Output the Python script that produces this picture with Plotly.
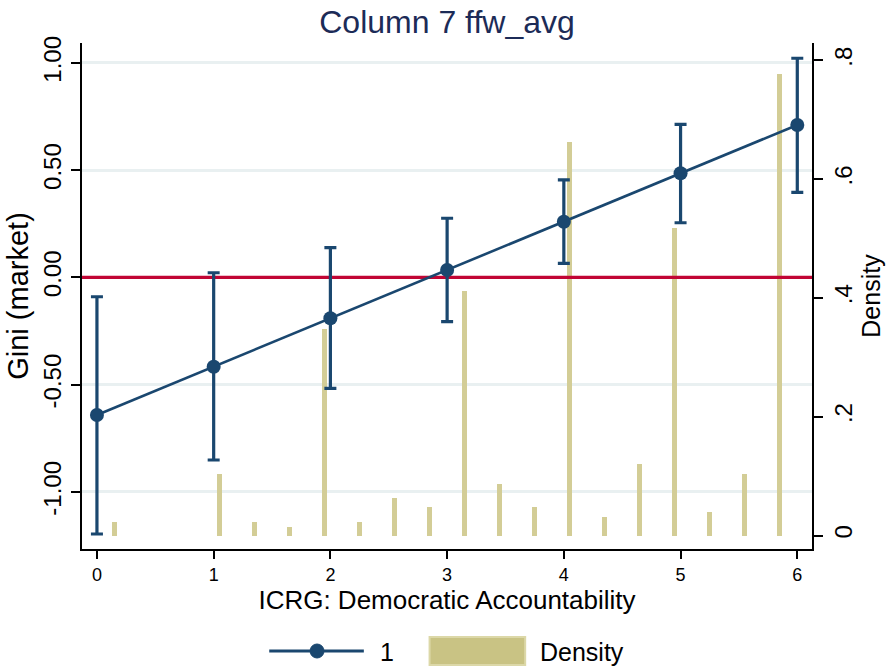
import plotly.graph_objects as go

# Marginal effect of ICRG democratic accountability on market Gini
icrg_levels = [0, 1, 2, 3, 4, 5, 6]
coef = [-0.641, -0.416, -0.190, 0.035, 0.260, 0.486, 0.711]
ci_upper = [-0.090, 0.022, 0.139, 0.276, 0.455, 0.714, 1.022]
ci_lower = [-1.196, -0.851, -0.517, -0.206, 0.066, 0.255, 0.397]

# Histogram of the moderator (bin width 0.3, density scale)
bin_centers = [0.15, 0.45, 0.75, 1.05, 1.35, 1.65, 1.95, 2.25, 2.55, 2.85,
               3.15, 3.45, 3.75, 4.05, 4.35, 4.65, 4.95, 5.25, 5.55, 5.85]
density = [0.022, 0.0, 0.0, 0.104, 0.022, 0.014, 0.348, 0.022, 0.063, 0.048,
           0.412, 0.087, 0.048, 0.663, 0.031, 0.120, 0.517, 0.039, 0.104, 0.777]

gini_ticks = [-1.0, -0.5, 0.0, 0.5, 1.0]
gini_ticktext = ["-1.00", "-0.50", "0.00", "0.50", "1.00"]
density_ticks = [0.0, 0.2, 0.4, 0.6, 0.8]
density_ticktext = ["0", ".2", ".4", ".6", ".8"]

X_RANGE = [-0.128, 6.126]
GINI_RANGE = [-1.266, 1.093]
DENSITY_RANGE = [-0.0227, 0.829]

NAVY = "#1A476F"
CRANBERRY = "#C10534"
KHAKI = "#D3CD96"
GRID = "#E9F0F1"
FONT = "Liberation Sans, Arial, sans-serif"

W, H = 888, 671
ML, MR, MT, MB = 82, 73, 43, 122
PW, PH = W - ML - MR, H - MT - MB


def px(x):
    return (x - ML) / PW


def py(y):
    return (H - MB - y) / PH


err_plus = [u - c for u, c in zip(ci_upper, coef)]
err_minus = [c - l for c, l in zip(coef, ci_lower)]
# empty bins are left out so no zero-height sliver is drawn
bar_heights = [d if d > 0 else None for d in density]

fig = go.Figure()

fig.add_trace(go.Bar(
    x=bin_centers, y=bar_heights, width=0.04, name="Density",
    marker=dict(color=KHAKI, line=dict(width=0)),
    yaxis="y", showlegend=False,
))

fig.add_trace(go.Scatter(
    x=X_RANGE, y=[0, 0], mode="lines",
    line=dict(color=CRANBERRY, width=3.2),
    yaxis="y2", showlegend=False, hoverinfo="skip",
))

fig.add_trace(go.Scatter(
    x=icrg_levels, y=coef, mode="lines+markers", name="1",
    line=dict(color=NAVY, width=2.6),
    marker=dict(color=NAVY, size=14),
    error_y=dict(type="data", symmetric=False, array=err_plus,
                 arrayminus=err_minus, color=NAVY, thickness=3.2, width=6),
    yaxis="y2", showlegend=False,
))

# Legend drawn below the plot region
legend_shapes = [
    dict(type="line", xref="paper", yref="paper",
         x0=px(270), x1=px(365), y0=py(651), y1=py(651),
         line=dict(color=NAVY, width=3)),
    dict(type="circle", xref="paper", yref="paper",
         x0=px(311), x1=px(325), y0=py(658), y1=py(644),
         fillcolor=NAVY, line=dict(color=NAVY, width=1)),
    dict(type="rect", xref="paper", yref="paper",
         x0=px(431), x1=px(527), y0=py(665), y1=py(637),
         fillcolor="#C9C384", line=dict(color="#DCD8A8", width=2)),
]
legend_labels = [
    dict(text="1", x=px(379), y=py(652), xref="paper", yref="paper",
         xanchor="left", yanchor="middle", showarrow=False,
         font=dict(size=25, color="black", family=FONT)),
    dict(text="Density", x=px(540), y=py(652), xref="paper", yref="paper",
         xanchor="left", yanchor="middle", showarrow=False,
         font=dict(size=25, color="black", family=FONT)),
]

fig.update_layout(
    width=W, height=H,
    margin=dict(l=ML, r=MR, t=MT, b=MB, pad=0),
    paper_bgcolor="white", plot_bgcolor="white",
    font=dict(family=FONT, color="black"),
    title=dict(text="Column 7 ffw_avg", x=0.5, xref="paper",
               y=1 - 22 / H, yref="container", yanchor="middle",
               font=dict(size=32, color="#1C2B57", family=FONT)),
    bargap=0,
    showlegend=False,
    xaxis=dict(
        range=X_RANGE, tickvals=icrg_levels, ticks="outside", ticklen=8,
        tickwidth=2, tickcolor="black", showline=True, linecolor="black",
        linewidth=2, showgrid=False, zeroline=False,
        tickfont=dict(size=18),
        title=dict(text="ICRG: Democratic Accountability",
                   font=dict(size=26), standoff=7),
    ),
    yaxis=dict(
        range=DENSITY_RANGE, side="right", tickvals=density_ticks,
        ticktext=density_ticktext, tickangle=-90, ticks="outside", ticklen=9,
        tickwidth=2, tickcolor="black", showline=True, linecolor="black",
        linewidth=2, showgrid=False, zeroline=False,
        tickfont=dict(size=24),
        title=dict(text="Density", font=dict(size=25), standoff=2),
    ),
    yaxis2=dict(
        range=GINI_RANGE, side="left", overlaying="y", tickvals=gini_ticks,
        ticktext=gini_ticktext, tickangle=-90, ticks="outside", ticklen=9,
        tickwidth=2, tickcolor="black", showline=True, linecolor="black",
        linewidth=2, showgrid=True, gridcolor=GRID, gridwidth=3,
        zeroline=False, tickfont=dict(size=24),
        title=dict(text="Gini (market)", font=dict(size=29), standoff=2),
    ),
    shapes=legend_shapes,
    annotations=legend_labels,
)

fig.write_html("out.html")
